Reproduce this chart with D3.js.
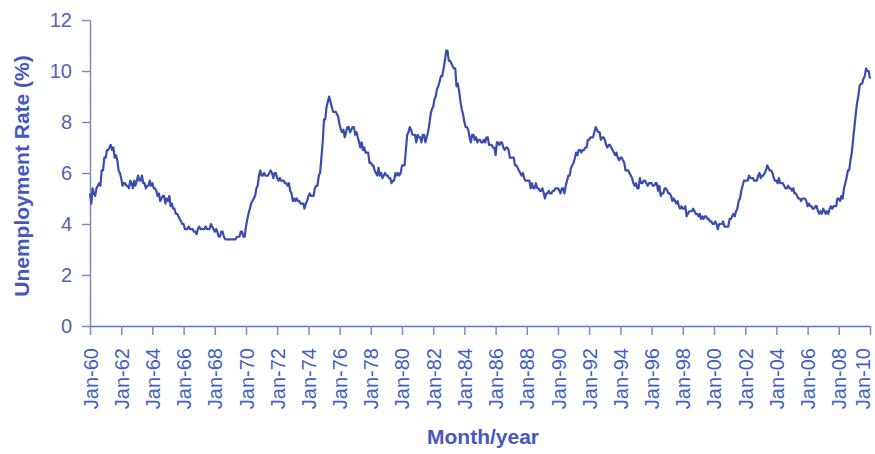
<!DOCTYPE html>
<html>
<head>
<meta charset="utf-8">
<script src="https://cdn.jsdelivr.net/npm/d3@7"></script>
<style>
  body { margin: 0; background: #fff; }
  svg { display: block; font-family: "Liberation Sans", Arial, sans-serif; }
</style>
</head>
<body>
<script>
/** Monthly unemployment rate (%), Jan 1960 onwards, one array per decade */
const rate1960s = [
  5.2, 4.8, 5.4, 5.2, 5.1, 5.4, 5.5, 5.6, 5.5, 6.1, 6.1, 6.6,
  6.6, 6.9, 6.9, 7.0, 7.1, 6.9, 7.0, 6.6, 6.7, 6.5, 6.1, 6.0,
  5.8, 5.5, 5.6, 5.6, 5.5, 5.5, 5.4, 5.7, 5.6, 5.4, 5.7, 5.5,
  5.7, 5.9, 5.7, 5.7, 5.9, 5.6, 5.6, 5.4, 5.5, 5.5, 5.7, 5.5,
  5.6, 5.4, 5.4, 5.3, 5.1, 5.2, 4.9, 5.0, 5.1, 5.1, 4.8, 5.0,
  4.9, 5.1, 4.7, 4.8, 4.6, 4.6, 4.4, 4.4, 4.3, 4.2, 4.1, 4.0,
  4.0, 3.8, 3.8, 3.8, 3.9, 3.8, 3.8, 3.8, 3.7, 3.7, 3.6, 3.8,
  3.9, 3.8, 3.8, 3.8, 3.8, 3.9, 3.8, 3.8, 3.8, 4.0, 3.9, 3.8,
  3.7, 3.8, 3.7, 3.5, 3.5, 3.7, 3.7, 3.5, 3.4, 3.4, 3.4, 3.4,
  3.4, 3.4, 3.4, 3.4, 3.4, 3.5, 3.5, 3.5, 3.7, 3.7, 3.5, 3.5
];
const rate1970s = [
  3.9, 4.2, 4.4, 4.6, 4.8, 4.9, 5.0, 5.1, 5.4, 5.5, 5.9, 6.1,
  5.9, 5.9, 6.0, 5.9, 5.9, 5.9, 6.0, 6.1, 6.0, 5.8, 6.0, 6.0,
  5.8, 5.7, 5.8, 5.7, 5.7, 5.7, 5.6, 5.6, 5.5, 5.6, 5.3, 5.2,
  4.9, 5.0, 4.9, 5.0, 4.9, 4.9, 4.8, 4.8, 4.8, 4.6, 4.8, 4.9,
  5.1, 5.2, 5.1, 5.1, 5.1, 5.4, 5.5, 5.5, 5.9, 6.0, 6.6, 7.2,
  8.1, 8.1, 8.6, 8.8, 9.0, 8.8, 8.6, 8.4, 8.4, 8.4, 8.3, 8.2,
  7.9, 7.7, 7.6, 7.7, 7.4, 7.6, 7.8, 7.8, 7.6, 7.7, 7.8, 7.8,
  7.5, 7.6, 7.4, 7.2, 7.0, 7.2, 6.9, 7.0, 6.8, 6.8, 6.8, 6.4,
  6.4, 6.3, 6.3, 6.1, 6.0, 5.9, 6.2, 5.9, 6.0, 5.8, 5.9, 6.0,
  5.9, 5.9, 5.8, 5.8, 5.6, 5.7, 5.7, 6.0, 5.9, 6.0, 5.9, 6.0
];
const rate1980s = [
  6.3, 6.3, 6.3, 6.9, 7.5, 7.6, 7.8, 7.7, 7.5, 7.5, 7.5, 7.2,
  7.5, 7.4, 7.4, 7.2, 7.5, 7.5, 7.2, 7.4, 7.6, 7.9, 8.3, 8.5,
  8.6, 8.9, 9.0, 9.3, 9.4, 9.6, 9.8, 9.8, 10.1, 10.4, 10.8, 10.8,
  10.4, 10.4, 10.3, 10.2, 10.1, 10.1, 9.4, 9.5, 9.2, 8.8, 8.5, 8.3,
  8.0, 7.8, 7.8, 7.7, 7.4, 7.2, 7.5, 7.5, 7.3, 7.4, 7.2, 7.3,
  7.3, 7.2, 7.2, 7.3, 7.2, 7.4, 7.4, 7.1, 7.1, 7.1, 7.0, 7.0,
  6.7, 7.2, 7.2, 7.1, 7.2, 7.2, 7.0, 6.9, 7.0, 7.0, 6.9, 6.6,
  6.6, 6.6, 6.6, 6.3, 6.3, 6.2, 6.1, 6.0, 5.9, 6.0, 5.8, 5.7,
  5.7, 5.7, 5.7, 5.4, 5.6, 5.4, 5.4, 5.6, 5.4, 5.4, 5.3, 5.3,
  5.4, 5.2, 5.0, 5.2, 5.2, 5.3, 5.2, 5.2, 5.3, 5.3, 5.4, 5.4
];
const rate1990s = [
  5.4, 5.3, 5.2, 5.4, 5.4, 5.2, 5.5, 5.7, 5.9, 5.9, 6.2, 6.3,
  6.4, 6.6, 6.8, 6.7, 6.9, 6.9, 6.8, 6.9, 6.9, 7.0, 7.0, 7.3,
  7.3, 7.4, 7.4, 7.4, 7.6, 7.8, 7.7, 7.6, 7.6, 7.3, 7.4, 7.4,
  7.3, 7.1, 7.0, 7.1, 7.1, 7.0, 6.9, 6.8, 6.7, 6.8, 6.6, 6.5,
  6.6, 6.6, 6.5, 6.4, 6.1, 6.1, 6.1, 6.0, 5.9, 5.8, 5.6, 5.5,
  5.6, 5.4, 5.4, 5.8, 5.6, 5.6, 5.7, 5.7, 5.6, 5.5, 5.6, 5.6,
  5.6, 5.5, 5.5, 5.6, 5.6, 5.3, 5.5, 5.1, 5.2, 5.2, 5.4, 5.4,
  5.3, 5.2, 5.2, 5.1, 4.9, 5.0, 4.9, 4.8, 4.9, 4.7, 4.6, 4.7,
  4.6, 4.6, 4.7, 4.3, 4.4, 4.5, 4.5, 4.5, 4.6, 4.5, 4.4, 4.4,
  4.3, 4.4, 4.2, 4.3, 4.2, 4.3, 4.3, 4.2, 4.2, 4.1, 4.1, 4.0
];
const rate2000s = [
  4.0, 4.1, 4.0, 3.8, 4.0, 4.0, 4.0, 4.1, 3.9, 3.9, 3.9, 3.9,
  4.2, 4.2, 4.3, 4.4, 4.3, 4.5, 4.6, 4.9, 5.0, 5.3, 5.5, 5.7,
  5.7, 5.7, 5.7, 5.9, 5.8, 5.8, 5.8, 5.7, 5.7, 5.7, 5.9, 6.0,
  5.8, 5.9, 5.9, 6.0, 6.1, 6.3, 6.2, 6.1, 6.1, 6.0, 5.8, 5.7,
  5.7, 5.6, 5.8, 5.6, 5.6, 5.6, 5.5, 5.4, 5.4, 5.5, 5.4, 5.4,
  5.3, 5.4, 5.2, 5.2, 5.1, 5.0, 5.0, 4.9, 5.0, 5.0, 5.0, 4.9,
  4.7, 4.8, 4.7, 4.7, 4.6, 4.6, 4.7, 4.7, 4.5, 4.4, 4.5, 4.4,
  4.6, 4.5, 4.4, 4.5, 4.4, 4.6, 4.7, 4.6, 4.7, 4.7, 4.7, 5.0,
  5.0, 4.9, 5.1, 5.0, 5.4, 5.6, 5.8, 6.1, 6.1, 6.5, 6.8, 7.3,
  7.8, 8.3, 8.7, 9.0, 9.4, 9.5, 9.5, 9.7, 9.8, 10.1, 10.0, 10.0
];
const rate2010s = [9.7];

const startYear = 1960;
const endYear = 2010;
const yTicks = [0, 2, 4, 6, 8, 10, 12];
const tickYears = d3.range(1960, 2011, 2);

const width = 875;
const height = 454;
const margin = { top: 20, right: 5, bottom: 128, left: 90 };

const lineColor = "#3a4dae";
const textColor = "#4658bd";
const axisColor = "#8088cc";

// build {date, value} pairs, one per month
const rates = [].concat(rate1960s, rate1970s, rate1980s, rate1990s, rate2000s, rate2010s);
const series = rates.map((v, i) => ({ date: new Date(startYear, i, 1), value: v }));

const svg = d3.select("body").append("svg")
  .attr("width", width)
  .attr("height", height);

const x = d3.scaleTime()
  .domain([new Date(startYear, 0, 1), new Date(endYear, 0, 1)])
  .range([margin.left, width - margin.right]);

const y = d3.scaleLinear()
  .domain([0, 12])
  .range([height - margin.bottom, margin.top]);

// y axis
const yAxis = svg.append("g")
  .attr("transform", "translate(" + margin.left + ",0)")
  .call(d3.axisLeft(y).tickValues(yTicks).tickSize(8).tickPadding(10).tickSizeOuter(0));
yAxis.select(".domain").attr("stroke", axisColor).attr("stroke-width", 1.5);
yAxis.selectAll(".tick line").attr("stroke", axisColor).attr("stroke-width", 1.5);
yAxis.selectAll(".tick text")
  .attr("fill", "#5560b8")
  .attr("font-size", "20px");

// x axis
const xAxis = svg.append("g")
  .attr("transform", "translate(0," + y(0) + ")")
  .call(d3.axisBottom(x)
    .tickValues(tickYears.map(yr => new Date(yr, 0, 1)))
    .tickFormat(d3.timeFormat("%b-%y"))
    .tickSize(9)
    .tickSizeOuter(0));
xAxis.select(".domain").attr("stroke", "#5a70cc").attr("stroke-width", 1.5);
xAxis.selectAll(".tick line").attr("stroke", axisColor).attr("stroke-width", 1.5);
xAxis.selectAll(".tick text")
  .attr("fill", "#4060c4")
  .attr("font-size", "20px")
  .attr("text-anchor", "end")
  .attr("dy", null)
  .attr("y", 0)
  // last label sits on the right edge, nudge it in so it is not cut
  .attr("transform", (d, i, nodes) =>
    "translate(" + (i === nodes.length - 1 ? -1 : 7) + ",22) rotate(-90)");

// the series
const line = d3.line()
  .x(d => x(d.date))
  .y(d => y(d.value));

svg.append("path")
  .datum(series)
  .attr("fill", "none")
  .attr("stroke", lineColor)
  .attr("stroke-width", 2.2)
  .attr("stroke-linejoin", "round")
  .attr("d", line);

// titles
svg.append("text")
  .attr("x", 483)
  .attr("y", 444)
  .attr("text-anchor", "middle")
  .attr("font-size", "21px")
  .attr("font-weight", "bold")
  .attr("fill", textColor)
  .text("Month/year");

svg.append("text")
  .attr("transform", "translate(29,176) rotate(-90)")
  .attr("text-anchor", "middle")
  .attr("font-size", "21px")
  .attr("font-weight", "bold")
  .attr("fill", textColor)
  .text("Unemployment Rate (%)");
</script>
</body>
</html>
